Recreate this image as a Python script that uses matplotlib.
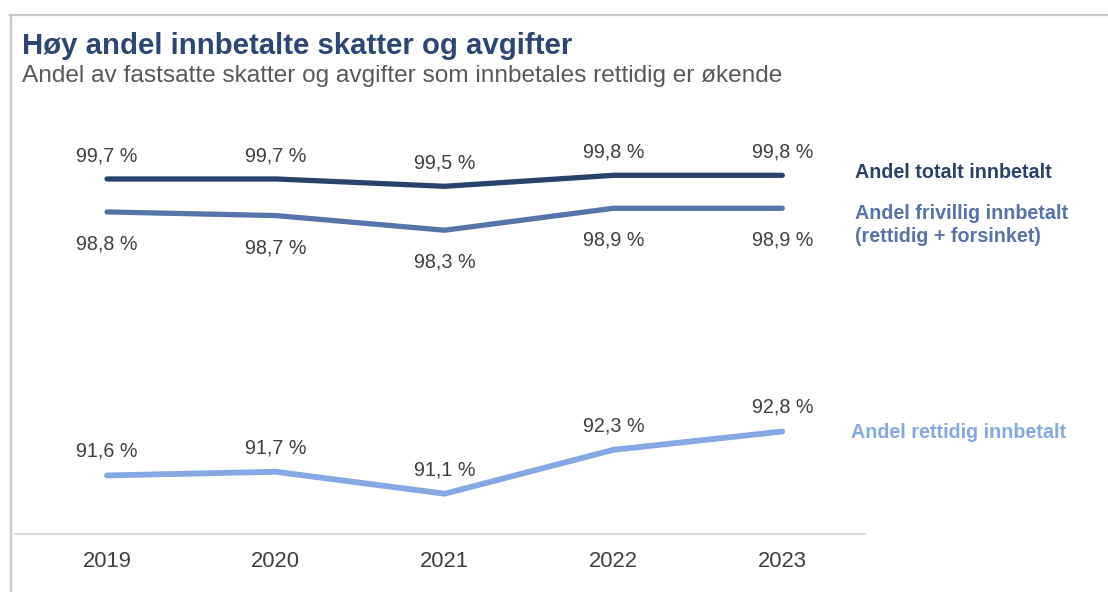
import matplotlib
matplotlib.use("Agg")
import matplotlib.pyplot as plt
from matplotlib.lines import Line2D

years = ["2019", "2020", "2021", "2022", "2023"]
totalt = [99.7, 99.7, 99.5, 99.8, 99.8]
frivillig = [98.8, 98.7, 98.3, 98.9, 98.9]
rettidig = [91.6, 91.7, 91.1, 92.3, 92.8]
series_names = ["Andel totalt innbetalt",
                "Andel frivillig innbetalt\n(rettidig + forsinket)",
                "Andel rettidig innbetalt"]
title = "Høy andel innbetalte skatter og avgifter"
subtitle = "Andel av fastsatte skatter og avgifter som innbetales rettidig er økende"

C_TOT = "#2B426B"
C_FRI = "#5874A8"
C_RET = "#86A8E3"
C_TITLE = "#2D4674"
C_TXT = "#404040"

plt.rcParams['font.family'] = ['Liberation Sans', 'DejaVu Sans']

W, H = 1108, 592
fig = plt.figure(figsize=(W / 100, H / 100), dpi=100)

def fx(px):
    return px / W

def fy(py):
    return 1 - py / H

# frame lines (top and left)
fig.add_artist(Line2D([fx(10), fx(1108)], [fy(14.5), fy(14.5)], color="#C8C8C8", lw=1.6))
fig.add_artist(Line2D([fx(10.5), fx(10.5)], [fy(14.5), fy(592)], color="#C8C8C8", lw=1.6))

fig.text(fx(22), fy(46), title, fontsize=21.2, fontweight="bold", color=C_TITLE, va="center", ha="left")
fig.text(fx(22), fy(76), subtitle, fontsize=17.6, color="#595959", va="center", ha="left")

ax = fig.add_axes([fx(15), fy(534), fx(865) - fx(15), fy(168) - fy(534)])
x = list(range(len(years)))
ax.plot(x, totalt, color=C_TOT, lw=3.8, solid_capstyle="round", solid_joinstyle="round")
ax.plot(x, frivillig, color=C_FRI, lw=3.8, solid_capstyle="round", solid_joinstyle="round")
ax.plot(x, rettidig, color=C_RET, lw=4.2, solid_capstyle="round", solid_joinstyle="round")

ax.set_xlim(-0.545, 4.49)
ax.set_ylim(90, 100)

def lab(v):
    return f"{v:.1f} %".replace(".", ",")

for i, v in enumerate(totalt):
    ax.annotate(lab(v), (i, v), xytext=(0, 16.8), textcoords="offset points",
                ha="center", va="center", fontsize=14.2, color=C_TXT)
for i, v in enumerate(frivillig):
    ax.annotate(lab(v), (i, v), xytext=(0, -23), textcoords="offset points",
                ha="center", va="center", fontsize=14.2, color=C_TXT)
for i, v in enumerate(rettidig):
    ax.annotate(lab(v), (i, v), xytext=(0, 17.3), textcoords="offset points",
                ha="center", va="center", fontsize=14.2, color=C_TXT)

ax.set_xticks(x)
ax.set_xticklabels(years, fontsize=15.8, color=C_TXT)
ax.tick_params(axis="x", length=0, pad=12)
ax.set_yticks([])
for s in ["top", "right", "left"]:
    ax.spines[s].set_visible(False)
ax.spines["bottom"].set_color("#D9D9D9")
ax.spines["bottom"].set_linewidth(1.5)

fig.text(fx(855), fy(173), series_names[0], fontsize=14.2, fontweight="bold", color=C_TOT, va="center", ha="left")
fig.text(fx(855), fy(225), series_names[1], fontsize=14.2, fontweight="bold", color=C_FRI, va="center", ha="left", linespacing=1.3)
fig.text(fx(851), fy(432), series_names[2], fontsize=14.2, fontweight="bold", color=C_RET, va="center", ha="left")

fig.savefig("out.png", dpi=100, facecolor="white")
